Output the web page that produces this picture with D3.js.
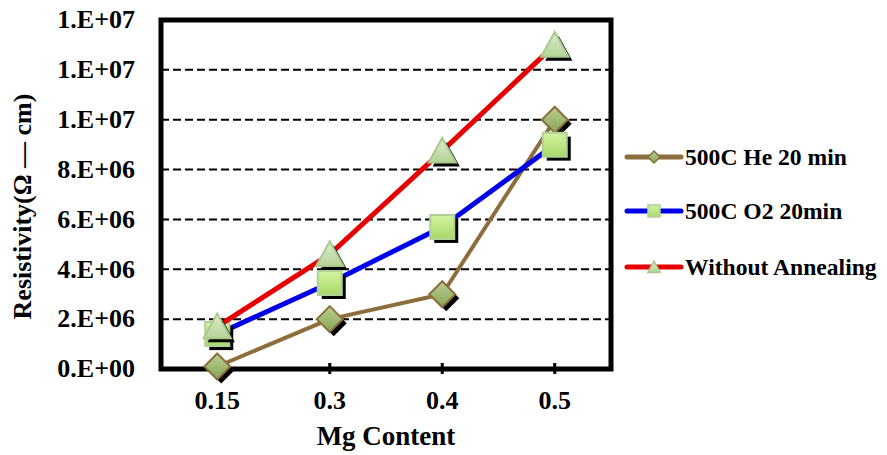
<!DOCTYPE html>
<html>
<head>
<meta charset="utf-8">
<script src="https://cdn.jsdelivr.net/npm/d3@7"></script>
<style>
  html, body { margin: 0; padding: 0; background: #fff; }
  svg { display: block; }
  text { font-family: "Liberation Serif", "Times New Roman", serif; font-weight: bold; fill: #000; }
</style>
</head>
<body>
<svg id="chart" width="887" height="455"></svg>
<script>
// Mg content categories and resistivity per annealing condition
const categories = ["0.15", "0.3", "0.4", "0.5"];
const heValues = [1.0e5, 2.0e6, 3.0e6, 1.0e7];
const o2Values = [1.4e6, 3.45e6, 5.7e6, 9.0e6];
const noAnnealValues = [1.7e6, 4.6e6, 8.75e6, 1.3e7];
const yTicks = [0, 2e6, 4e6, 6e6, 8e6, 1e7, 1.2e7, 1.4e7];
const seriesNames = ["500C He 20 min", "500C O2 20min", "Without Annealing"];

const series = [
  { name: seriesNames[0], values: heValues, color: "#8c6d3c", width: 4, marker: "diamond" },
  { name: seriesNames[1], values: o2Values, color: "#0000e6", width: 5, marker: "square" },
  { name: seriesNames[2], values: noAnnealValues, color: "#e60000", width: 5, marker: "triangle" }
];

const svg = d3.select("#chart");
const plot = { left: 161, right: 611, top: 20, bottom: 369 };

const x = d3.scaleBand().domain(categories).range([plot.left, plot.right]);
const y = d3.scaleLinear().domain([0, 1.4e7]).range([plot.bottom, plot.top]);
const cx = c => x(c) + x.bandwidth() / 2;

// Excel-like tick label format: 0 decimal scientific
const sci = v => {
  if (v === 0) return "0.E+00";
  const e = Math.floor(Math.log10(v));
  const m = Math.round(v / Math.pow(10, e));
  return m + ".E+" + String(e).padStart(2, "0");
};

// gradients for the markers
const defs = svg.append("defs");
function grad(id, top, bottom) {
  const g = defs.append("linearGradient").attr("id", id).attr("x1", 0).attr("y1", 0).attr("x2", 0).attr("y2", 1);
  g.append("stop").attr("offset", "0%").attr("stop-color", top);
  g.append("stop").attr("offset", "100%").attr("stop-color", bottom);
}
grad("gDiamond", "#b9cf93", "#86a656");
grad("gSquare", "#d3f3a0", "#a9d86a");
grad("gTriangle", "#dcecc8", "#b4d398");

const markerStyle = {
  diamond: { fill: "url(#gDiamond)", stroke: "#8c6d3c" },
  square: { fill: "url(#gSquare)", stroke: "#b0d195" },
  triangle: { fill: "url(#gTriangle)", stroke: "#a9c98e" }
};

function markerPath(type, s) {
  const h = s / 2;
  if (type === "diamond") return `M0,${-h}L${h},0L0,${h}L${-h},0Z`;
  if (type === "square") return `M${-h},${-h}H${h}V${h}H${-h}Z`;
  return `M0,${-h}L${h * 1.05},${h * 0.9}L${-h * 1.05},${h * 0.9}Z`;
}

// horizontal dashed gridlines
svg.append("g")
  .selectAll("line")
  .data(yTicks.slice(1, -1))
  .join("line")
  .attr("x1", plot.left).attr("x2", plot.right)
  .attr("y1", d => y(d)).attr("y2", d => y(d))
  .attr("stroke", "#000").attr("stroke-width", 2)
  .attr("stroke-dasharray", "8,4");

// y axis labels
const yAxis = d3.axisLeft(y).tickValues(yTicks).tickFormat(sci).tickSize(0).tickPadding(26);
const gy = svg.append("g").attr("transform", `translate(${plot.left},0)`).call(yAxis);
gy.select(".domain").remove();
gy.selectAll("text").attr("font-size", 26).attr("dy", "0.3em")
  .style("font-family", "'Liberation Serif', serif").style("font-weight", "bold");

// x axis labels and tick marks
const xAxis = d3.axisBottom(x).tickSize(0).tickPadding(22);
const gx = svg.append("g").attr("transform", `translate(0,${plot.bottom})`).call(xAxis);
gx.select(".domain").remove();
gx.selectAll("text").attr("font-size", 26)
  .style("font-family", "'Liberation Serif', serif").style("font-weight", "bold");
gx.selectAll(".tick").append("line")
  .attr("y1", -6).attr("y2", 5).attr("stroke", "#000").attr("stroke-width", 3);

// frame
svg.append("rect")
  .attr("x", plot.left).attr("y", plot.top)
  .attr("width", plot.right - plot.left).attr("height", plot.bottom - plot.top)
  .attr("fill", "none").attr("stroke", "#000").attr("stroke-width", 5);

// series lines with shadowed markers
const line = d3.line().x((d, i) => cx(categories[i])).y(d => y(d));
series.forEach(s => {
  const g = svg.append("g");
  g.append("path").datum(s.values)
    .attr("d", line).attr("fill", "none")
    .attr("stroke", s.color).attr("stroke-width", s.width)
    .attr("stroke-linejoin", "round");
  const size = s.marker === "diamond" ? 26 : (s.marker === "square" ? 24 : 26);
  const pts = g.selectAll("g.pt").data(s.values).join("g").attr("class", "pt")
    .attr("transform", (d, i) => `translate(${cx(categories[i])},${y(d)})`);
  pts.append("path").attr("d", markerPath(s.marker, size))
    .attr("transform", "translate(4,4)").attr("fill", "#000");
  pts.append("path").attr("d", markerPath(s.marker, size))
    .attr("fill", markerStyle[s.marker].fill)
    .attr("stroke", markerStyle[s.marker].stroke).attr("stroke-width", 2);
});

// legend
const legendY = [157, 211, 267];
const lg = svg.append("g");
series.forEach((s, i) => {
  const row = lg.append("g").attr("transform", `translate(0,${legendY[i]})`);
  row.append("line").attr("x1", 627).attr("x2", 681)
    .attr("stroke", s.color).attr("stroke-width", 5).attr("stroke-linecap", "round");
  row.append("path").attr("d", markerPath(s.marker, 12))
    .attr("transform", "translate(654,0)")
    .attr("fill", markerStyle[s.marker].fill)
    .attr("stroke", markerStyle[s.marker].stroke).attr("stroke-width", 1.5);
  row.append("text").attr("x", 685).attr("dy", "0.33em")
    .attr("font-size", 23.6).text(s.name);
});

// axis titles
svg.append("text").attr("x", (plot.left + plot.right) / 2).attr("y", 445)
  .attr("text-anchor", "middle").attr("font-size", 27).text("Mg Content");
svg.append("text")
  .attr("transform", `translate(31,${(plot.top + plot.bottom) / 2 + 12}) rotate(-90)`)
  .attr("text-anchor", "middle").attr("font-size", 26).text("Resistivity(Ω — cm)");
</script>
</body>
</html>
